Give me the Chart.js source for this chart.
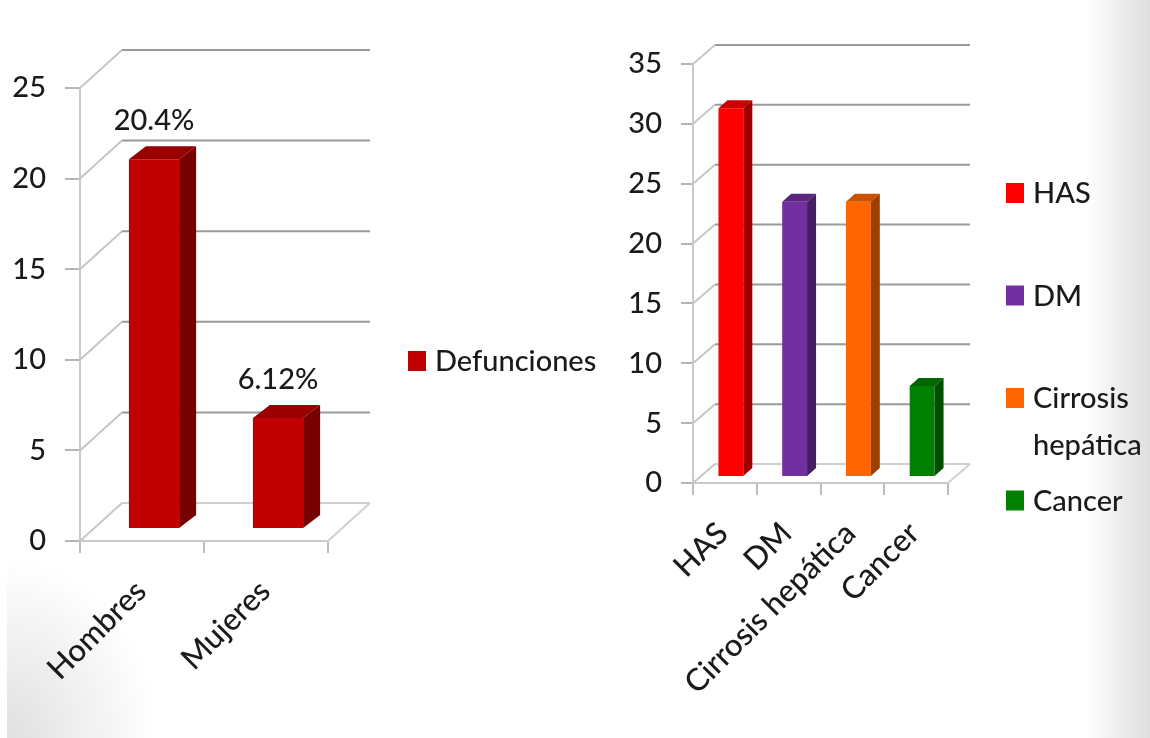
<!DOCTYPE html>
<html>
<head>
<meta charset="utf-8">
<script src="https://cdn.jsdelivr.net/npm/chart.js@4.4.0/dist/chart.umd.min.js"></script>
<style>
  html, body { margin: 0; padding: 0; }
  body {
    width: 1150px; height: 738px; position: relative; overflow: hidden;
    background: linear-gradient(to right, #fff 0, #fff 1085px, #dedede 1150px);
  }
  #sombra {
    position: absolute; left: 7px; bottom: 0; width: 220px; height: 240px;
    background: radial-gradient(ellipse 150px 180px at 0 240px, #e0e0e0, rgba(255,255,255,0));
  }
  canvas { position: absolute; top: 0; }
  #sexo { left: 0; }
  #causas { left: 600px; }
</style>
</head>
<body>
<div id="sombra"></div>
<canvas id="sexo" width="600" height="738"></canvas>
<canvas id="causas" width="550" height="738"></canvas>
<script>
// defunciones por sexo (%)
const sexLabels = ['Hombres', 'Mujeres'];
const sexValues = [20.4, 6.12];
const sexColor = '#C00000';

// causas de defunción
const causeLabels = ['HAS', 'DM', 'Cirrosis hepática', 'Cancer'];
const causeValues = [30.8, 23, 23, 7.6];
const causeColors = ['#FF0000', '#7030A0', '#FF6600', '#008000'];

const FONT = 'Lato, "Open Sans", sans-serif';
Chart.defaults.font.family = FONT;
Chart.defaults.font.size = 29;
Chart.defaults.font.weight = 500;
Chart.defaults.color = '#1a1a1a';

function shade(hex, f) {
  const n = parseInt(hex.slice(1), 16);
  const r = Math.round((n >> 16 & 255) * f);
  const g = Math.round((n >> 8 & 255) * f);
  const b = Math.round((n & 255) * f);
  return 'rgb(' + r + ',' + g + ',' + b + ')';
}

// walls, floor and the bar depth faces
const box3d = {
  id: 'box3d',
  beforeDatasetsDraw(chart, args, o) {
    const ctx = chart.ctx, a = chart.chartArea, y = chart.scales.y;
    const wx = o.wall[0], wy = o.wall[1];
    ctx.save();
    ctx.lineWidth = 2;
    ctx.strokeStyle = '#d0d0d0';
    ctx.beginPath();
    ctx.moveTo(a.right, a.bottom);
    ctx.lineTo(a.right + wx, a.bottom - wy);
    ctx.stroke();
    y.ticks.forEach(t => {
      const py = y.getPixelForValue(t.value);
      ctx.strokeStyle = '#c6c6c6';
      ctx.beginPath();
      ctx.moveTo(a.left, py);
      ctx.lineTo(a.left + wx, py - wy);
      ctx.stroke();
      ctx.strokeStyle = t.value === 0 ? '#d0d0d0' : '#9a9a9a';
      ctx.beginPath();
      ctx.moveTo(a.left + wx, py - wy);
      ctx.lineTo(a.right + wx, py - wy);
      ctx.stroke();
    });
    ctx.restore();
    // bars stand a little behind the front edge
    ctx.save();
    ctx.translate(o.shift[0], -o.shift[1]);
  },
  afterDatasetsDraw(chart, args, o) {
    const ctx = chart.ctx;
    const bx = o.depth[0], by = o.depth[1];
    const ds = chart.data.datasets[0];
    chart.getDatasetMeta(0).data.forEach((bar, i) => {
      const p = bar.getProps(['x', 'y', 'base', 'width'], true);
      const l = p.x - p.width / 2, r = p.x + p.width / 2;
      const col = Array.isArray(ds.backgroundColor) ? ds.backgroundColor[i] : ds.backgroundColor;
      ctx.fillStyle = shade(col, 0.8);
      ctx.beginPath();
      ctx.moveTo(l, p.y);
      ctx.lineTo(l + bx, p.y - by);
      ctx.lineTo(r + bx, p.y - by);
      ctx.lineTo(r, p.y);
      ctx.closePath();
      ctx.fill();
      ctx.fillStyle = shade(col, 0.62);
      ctx.beginPath();
      ctx.moveTo(r, p.y);
      ctx.lineTo(r + bx, p.y - by);
      ctx.lineTo(r + bx, p.base - by);
      ctx.lineTo(r, p.base);
      ctx.closePath();
      ctx.fill();
    });
    ctx.restore();

    if (o.valueLabels) {
      ctx.save();
      ctx.font = '500 29px ' + FONT;
      ctx.fillStyle = '#1a1a1a';
      ctx.textAlign = 'center';
      ctx.textBaseline = 'alphabetic';
      chart.getDatasetMeta(0).data.forEach((bar, i) => {
        const p = bar.getProps(['x', 'y'], true);
        ctx.fillText(ds.data[i] + '%', p.x + o.shift[0], p.y - o.shift[1] - 29);
      });
      ctx.restore();
    }
  },
  afterDraw(chart, args, o) {
    const ctx = chart.ctx, lg = o.legend;
    const ds = chart.data.datasets[0];
    let items;
    if (lg.byCategory) {
      items = chart.data.labels.map((t, i) => ({ text: t, color: ds.backgroundColor[i] }));
    } else {
      items = [{ text: ds.label, color: ds.backgroundColor }];
    }
    ctx.save();
    ctx.font = '500 29px ' + FONT;
    ctx.textBaseline = 'alphabetic';
    items.forEach((it, i) => {
      const cy = lg.y + i * lg.step;
      ctx.fillStyle = it.color;
      ctx.fillRect(lg.x, cy - 10, 18, 20);
      ctx.fillStyle = '#1a1a1a';
      let lines = [it.text];
      if (ctx.measureText(it.text).width > lg.maxWidth) lines = it.text.split(' ');
      lines.forEach((ln, k) => ctx.fillText(ln, lg.x + 27, cy + 10 + k * 47));
    });
    ctx.restore();
  }
};

function axisX(height, pad, offset) {
  return {
    afterFit(s) { s.height = height; },
    grid: { display: true, drawOnChartArea: false, drawTicks: true, tickLength: 12, color: '#bdbdbd', lineWidth: 2, offset: true },
    border: { display: true, color: '#cacaca', width: 2 },
    ticks: { minRotation: 45, maxRotation: 45, autoSkip: false, padding: pad, labelOffset: offset, font: { size: 31 } }
  };
}

function axisY(width, max, tick) {
  return {
    afterFit(s) { s.width = width; },
    min: 0, max: max,
    grid: { display: true, drawOnChartArea: false, drawTicks: true, tickLength: tick, color: '#b5b5b5', lineWidth: 2 },
    border: { display: true, color: '#cacaca', width: 2 },
    ticks: { stepSize: 5, padding: 19 }
  };
}

new Chart(document.getElementById('sexo'), {
  type: 'bar',
  data: {
    labels: sexLabels,
    datasets: [{
      label: 'Defunciones',
      data: sexValues,
      backgroundColor: sexColor,
      borderWidth: 0,
      categoryPercentage: 1,
      barPercentage: 0.405
    }]
  },
  options: {
    responsive: false,
    animation: false,
    devicePixelRatio: 1,
    layout: { padding: { left: 0, top: 88, right: 272, bottom: 0 } },
    scales: { x: axisX(197, 20, -1), y: axisY(80, 25, 15) },
    plugins: {
      legend: { display: false },
      tooltip: { enabled: false },
      box3d: {
        wall: [42, 38], shift: [12, 12], depth: [17, 13], valueLabels: true,
        legend: { x: 408, y: 361, step: 0, maxWidth: 300, byCategory: false }
      }
    }
  },
  plugins: [box3d]
});

new Chart(document.getElementById('causas'), {
  type: 'bar',
  data: {
    labels: causeLabels,
    datasets: [{
      label: 'Causas',
      data: causeValues,
      backgroundColor: causeColors,
      borderWidth: 0,
      categoryPercentage: 1,
      barPercentage: 0.39
    }]
  },
  options: {
    responsive: false,
    animation: false,
    devicePixelRatio: 1,
    layout: { padding: { left: 0, top: 64, right: 202, bottom: 0 } },
    scales: { x: axisX(255, 20, -2), y: axisY(93, 35, 12) },
    plugins: {
      legend: { display: false },
      tooltip: { enabled: false },
      box3d: {
        wall: [22, 19], shift: [6, 6], depth: [9, 8], valueLabels: false,
        legend: { x: 406, y: 193, step: 102.5, maxWidth: 120, byCategory: true }
      }
    }
  },
  plugins: [box3d]
});
</script>
</body>
</html>
